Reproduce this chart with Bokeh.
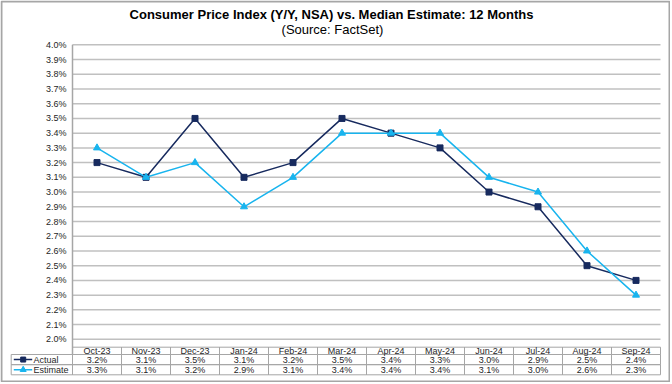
from bokeh.plotting import figure
from bokeh.models import Range1d
from bokeh.core.properties import value
from bokeh.embed import file_html
from bokeh.resources import INLINE

# ---------------- data ----------------
months = ["Oct-23", "Nov-23", "Dec-23", "Jan-24", "Feb-24", "Mar-24",
          "Apr-24", "May-24", "Jun-24", "Jul-24", "Aug-24", "Sep-24"]
actual = [3.2, 3.1, 3.5, 3.1, 3.2, 3.5, 3.4, 3.3, 3.0, 2.9, 2.5, 2.4]
estimate = [3.3, 3.1, 3.2, 2.9, 3.1, 3.4, 3.4, 3.4, 3.1, 3.0, 2.6, 2.3]
series_names = ["Actual", "Estimate"]
y_ticks = [round(2.0 + 0.1 * i, 1) for i in range(21)]
y_tick_labels = [f"{t:.1f}%" for t in y_ticks]
title_text = "Consumer Price Index (Y/Y, NSA) vs. Median Estimate: 12 Months"
subtitle_text = "(Source: FactSet)"

# ---------------- style / layout ----------------
FONT = "Liberation Sans"
NAVY = "#172A5E"
LIGHT = "#18B4EE"
GRID = "#C0C0C0"
BORDER = "#A6A6A6"
TXT = "#262626"
W, H = 670, 382
LEFT, CAT_W = 72, 49            # plot-area left edge and category width (px)
Y_TOP_PX, Y_BOT_PX = 44.3, 338.8  # pixel rows of 4.0% and 2.0%
Y_MIN, Y_MAX = 2.0, 4.0
PX_PER_UNIT = (Y_BOT_PX - Y_TOP_PX) / (Y_MAX - Y_MIN)


def px(fx):
    """horizontal pixel -> category units"""
    return (fx - LEFT) / CAT_W


def py(fy):
    """vertical pixel -> value units"""
    return Y_MAX - (fy - Y_TOP_PX) / PX_PER_UNIT


n = len(months)
idx = list(range(n))
cx = [i + 0.5 for i in idx]

p = figure(width=W, height=H, output_backend="svg", toolbar_location=None,
           x_range=Range1d(px(0), px(W)), y_range=Range1d(py(H), py(0)),
           x_axis_type=None, y_axis_type=None, min_border=0, tools="")
p.outline_line_color = None
p.xgrid.visible = False
p.ygrid.visible = False
p.background_fill_color = "white"
p.border_fill_color = "white"

# outer chart frame
p.quad(left=[px(1)], right=[px(669)], top=[py(1)], bottom=[py(381)],
       fill_color=None, line_color=BORDER, line_width=2)

# titles
p.text(x=[px(331)], y=[py(14)], text=[title_text], text_font=value(FONT),
       text_font_size="13px", text_font_style="bold", text_color="#000000",
       text_align="center", text_baseline="middle")
p.text(x=[px(332)], y=[py(29)], text=[subtitle_text], text_font=value(FONT),
       text_font_size="13px", text_color="#000000",
       text_align="center", text_baseline="middle")

# horizontal gridlines
p.segment(x0=[0] * len(y_ticks), x1=[n] * len(y_ticks), y0=y_ticks, y1=y_ticks,
          line_color=GRID, line_width=1.5)

# value axis line (continues down to the bottom of the table header)
TAB_HDR_TOP, TAB_ROW_TOP, ROW_H = 346.7, 354.0, 10.15
p.segment(x0=[0], x1=[0], y0=[Y_MAX], y1=[py(TAB_ROW_TOP)],
          line_color=BORDER, line_width=1.5)

# value-axis tick labels
p.text(x=[px(66)] * len(y_ticks), y=y_ticks, text=y_tick_labels,
       text_font=value(FONT), text_font_size="9px", text_color=TXT,
       text_align="right", text_baseline="middle")

# series
p.line(cx, actual, line_color=NAVY, line_width=1.5)
p.scatter(cx, actual, marker="square", size=6, fill_color=NAVY,
          line_color=NAVY)
p.line(cx, estimate, line_color=LIGHT, line_width=1.5)
p.scatter(cx, estimate, marker="triangle", size=7, fill_color=LIGHT,
          line_color=LIGHT)

# ---------------- data table ----------------
rows_top = [TAB_ROW_TOP + k * ROW_H for k in range(len(series_names))]

p.quad(left=idx, right=[i + 1 for i in idx],
       top=[py(TAB_HDR_TOP)] * n, bottom=[py(TAB_ROW_TOP)] * n,
       fill_color=None, line_color=BORDER, line_width=1)
for k in range(len(series_names)):
    p.quad(left=[px(10.7)] + idx, right=[0] + [i + 1 for i in idx],
           top=[py(rows_top[k])] * (n + 1),
           bottom=[py(rows_top[k] + ROW_H)] * (n + 1),
           fill_color=None, line_color=BORDER, line_width=1)

p.text(x=cx, y=[py((TAB_HDR_TOP + TAB_ROW_TOP) / 2 + 0.3)] * n, text=months,
       text_font=value(FONT), text_font_size="9px", text_color=TXT,
       text_align="center", text_baseline="middle")
for k, vals in enumerate([actual, estimate]):
    yc = py(rows_top[k] + ROW_H / 2)
    p.text(x=cx, y=[yc] * n, text=[f"{v:.1f}%" for v in vals],
           text_font=value(FONT), text_font_size="9px", text_color=TXT,
           text_align="center", text_baseline="middle")

# legend keys inside the table
leg_colors = [NAVY, LIGHT]
leg_markers = ["square", "triangle"]
leg_sizes = [5, 6]
for k, name in enumerate(series_names):
    yc = py(rows_top[k] + ROW_H / 2)
    p.segment(x0=[px(13.3)], y0=[yc], x1=[px(31.7)], y1=[yc],
              line_color=leg_colors[k], line_width=1.5)
    p.scatter(x=[px(22.7)], y=[yc], marker=leg_markers[k], size=leg_sizes[k],
              fill_color=leg_colors[k], line_color=leg_colors[k])
    p.text(x=[px(33)], y=[yc], text=[name], text_font=value(FONT),
           text_font_size="9px", text_color=TXT, text_align="left",
           text_baseline="middle")

open("out.html", "w").write(file_html(p, INLINE))
